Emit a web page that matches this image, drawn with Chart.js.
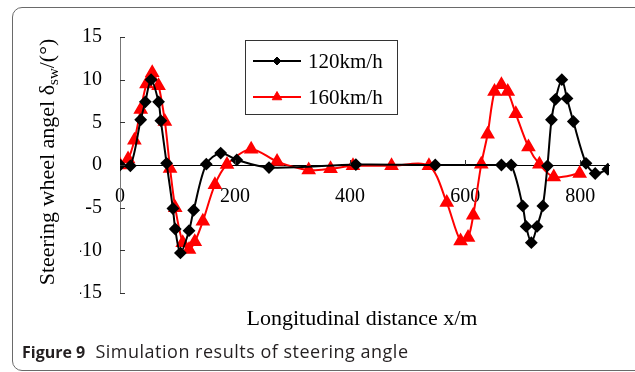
<!DOCTYPE html>
<html>
<head>
<meta charset="utf-8">
<script src="https://cdn.jsdelivr.net/npm/chart.js@4.4.1/dist/chart.umd.min.js"></script>
<style>
    html, body { margin: 0; padding: 0; background: #fff; overflow: hidden; }
    #wrap { position: relative; width: 635px; height: 372px; overflow: hidden; }
    #steerChart { position: absolute; left: 0; top: 0; }
    .frame {
        position: absolute; left: 12px; top: 7px; width: 700px; height: 362px;
        border: 1px solid #6a6a6a; border-radius: 10px 0 0 10px;
        pointer-events: none;
    }
    .caption {
        position: absolute; left: 22px; top: 339px;
        font-family: "Open Sans", "Noto Sans", sans-serif; font-size: 18px; color: #231f20;
        letter-spacing: 0.5px; white-space: nowrap;
    }
    .caption b { font-size: 16px; letter-spacing: 0; font-weight: 700; margin-right: 5px; }
</style>
</head>
<body>
<div id="wrap">
    <canvas id="steerChart" width="635" height="372"></canvas>
    <div class="frame"></div>
    <div class="caption"><b>Figure 9</b> Simulation results of steering angle</div>
</div>
<script>
// 120 km/h run
const distance120 = [0, 18, 36, 44, 54, 67, 71, 81, 92, 96, 105, 120, 128, 150, 175, 203, 259, 410, 548,
    663, 680, 700, 706, 715, 725, 735, 743, 750, 757, 768, 777, 788, 810, 826, 848];
const angle120 = [0, -0.1, 5.3, 7.4, 10.0, 7.4, 5.2, 0.2, -5.1, -7.5, -10.3, -7.7, -5.3, 0.1, 1.4, 0.6, -0.3, 0.05, 0,
    0, 0, -4.8, -7.2, -9.1, -7.2, -4.8, -0.1, 5.3, 7.7, 10.0, 7.8, 5.1, 0.2, -1.0, -0.5];

// 160 km/h run
const distance160 = [0, 14, 25, 36, 46, 56, 67, 78, 87, 96, 109, 120, 130, 144, 165, 186, 228, 273, 328, 366, 405,
    472, 537, 568, 592, 605, 614, 628, 639, 651, 663, 674, 688, 710, 729, 754, 799];
const angle160 = [0, 0.7, 2.9, 6.5, 9.5, 10.8, 9.3, 5.1, -0.4, -5.0, -9.1, -9.9, -9.0, -6.6, -2.3, 0.05, 1.85, 0.4, -0.6, -0.45, -0.1,
    -0.1, -0.1, -4.4, -8.9, -8.5, -5.9, 0.1, 3.6, 8.6, 9.4, 8.6, 6.0, 2.1, 0.1, -1.4, -1.0];

const seriesNames = ['120km/h', '160km/h'];
const xTicks = [0, 200, 400, 600, 800];
const yTicks = [-15, -10, -5, 0, 5, 10, 15];

const serif = '"Liberation Serif", "Times New Roman", serif';

const toPoints = (xs, ys) => xs.map((x, i) => ({ x: x, y: ys[i] }));

// small inward tick marks, legend box and axis titles
const decorations = {
    id: 'decorations',
    afterDraw(chart) {
        const { ctx, chartArea, scales: { x, y } } = chart;
        const zeroY = y.getPixelForValue(0);
        ctx.save();

        // ticks
        ctx.strokeStyle = '#333';
        ctx.lineWidth = 1;
        ctx.beginPath();
        xTicks.forEach(v => {
            if (v === 0) return;
            const px = Math.round(x.getPixelForValue(v)) + 0.5;
            ctx.moveTo(px, zeroY);
            ctx.lineTo(px, zeroY - 5);
        });
        yTicks.forEach(v => {
            const py = Math.round(y.getPixelForValue(v)) + 0.5;
            ctx.moveTo(chartArea.left, py);
            ctx.lineTo(chartArea.left + 5, py);
        });
        ctx.stroke();

        // legend
        const box = { left: 245.5, top: 40.5, width: 152, height: 74 };
        ctx.strokeStyle = '#333';
        ctx.strokeRect(box.left, box.top, box.width, box.height);
        chart.data.datasets.forEach((ds, i) => {
            const ly = 61 + i * 36;
            ctx.strokeStyle = ds.borderColor;
            ctx.lineWidth = 2;
            ctx.beginPath();
            ctx.moveTo(253, ly);
            ctx.lineTo(301, ly);
            ctx.stroke();
            ctx.fillStyle = ds.pointBackgroundColor;
            ctx.strokeStyle = ds.pointBorderColor;
            ctx.lineWidth = 1;
            Chart.helpers.drawPoint(ctx, {
                pointStyle: ds.pointStyle, radius: ds.pointRadius - 1, borderWidth: 1, rotation: 0
            }, 277, ly);
            ctx.fillStyle = '#000';
            ctx.font = '21px ' + serif;
            ctx.textAlign = 'left';
            ctx.textBaseline = 'middle';
            ctx.fillText(ds.label, 308, ly + 1);
        });

        // x title
        ctx.fillStyle = '#000';
        ctx.font = '22px ' + serif;
        ctx.textAlign = 'center';
        ctx.textBaseline = 'alphabetic';
        ctx.fillText('Longitudinal distance x/m', 362, 325);

        // y title with subscript
        const main = 'Steering wheel angel δ', sub = 'sw', tail = '/(°)';
        ctx.translate(54, 162);
        ctx.rotate(-Math.PI / 2);
        ctx.textAlign = 'left';
        ctx.font = '22px ' + serif;
        const w1 = ctx.measureText(main).width;
        const w3 = ctx.measureText(tail).width;
        ctx.font = '15px ' + serif;
        const w2 = ctx.measureText(sub).width;
        let cx = -(w1 + w2 + w3) / 2;
        ctx.font = '22px ' + serif;
        ctx.fillText(main, cx, 0);
        cx += w1;
        ctx.font = '15px ' + serif;
        ctx.fillText(sub, cx, 4);
        cx += w2;
        ctx.font = '22px ' + serif;
        ctx.fillText(tail, cx, 0);

        ctx.restore();
    }
};

new Chart(document.getElementById('steerChart'), {
    type: 'line',
    plugins: [decorations],
    data: {
        datasets: [{
            label: seriesNames[0],
            data: toPoints(distance120, angle120),
            borderColor: '#000',
            borderWidth: 2,
            pointStyle: 'rectRot',
            pointRadius: 5,
            pointBackgroundColor: '#000',
            pointBorderColor: '#000',
            tension: 0.3,
            order: 0
        }, {
            label: seriesNames[1],
            data: toPoints(distance160, angle160),
            borderColor: '#ff0000',
            borderWidth: 2,
            pointStyle: 'triangle',
            pointRadius: 6.5,
            pointBackgroundColor: '#ff0000',
            pointBorderColor: '#ff0000',
            tension: 0.3,
            order: 1
        }]
    },
    options: {
        responsive: false,
        animation: false,
        events: [],
        layout: { padding: { left: 80, right: 26, top: 37, bottom: 79 } },
        plugins: { legend: { display: false }, tooltip: { enabled: false } },
        scales: {
            x: {
                type: 'linear',
                position: { y: 0 },
                min: 0,
                max: 850,
                afterBuildTicks: s => { s.ticks = xTicks.map(v => ({ value: v })); },
                grid: { display: false, drawTicks: false },
                border: { display: true, color: '#000', width: 1 },
                ticks: { color: '#000', padding: 20, maxRotation: 0, font: { family: serif, size: 20 } }
            },
            y: {
                min: -15,
                max: 15,
                afterBuildTicks: s => { s.ticks = yTicks.map(v => ({ value: v })); },
                afterFit: s => { s.width = 40; },
                grid: { display: false, drawTicks: false },
                border: { display: true, color: '#777', width: 1 },
                ticks: { color: '#000', padding: 18, font: { family: serif, size: 20 } }
            }
        }
    }
});
</script>
</body>
</html>
